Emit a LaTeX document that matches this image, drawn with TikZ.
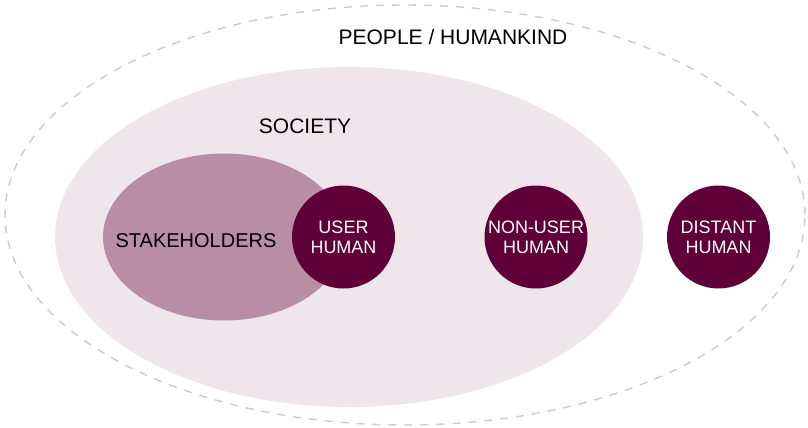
\documentclass[tikz,border=0pt]{standalone}
\usepackage{fontspec}
\setmainfont{Liberation Sans}
\usetikzlibrary{shapes}

\definecolor{societypink}{HTML}{EFE6EC}
\definecolor{stakemauve}{HTML}{B98EA5}
\definecolor{humanwine}{HTML}{600038}
\definecolor{dashgray}{HTML}{CBCBCB}

\begin{document}
\begin{tikzpicture}[x=1pt,y=1pt]
          \tikzstyle{every node}+=[inner sep=0pt]
          \tikzstyle{human}=[circle, fill=humanwine, minimum size=103pt, text=white, align=center, font=\fontsize{18}{20}\selectfont]
          \tikzstyle{caption}=[anchor=base, font=\fontsize{21}{25}\selectfont]
          \useasboundingbox (0,0) rectangle (808,-428);
          \node [ellipse, draw=dashgray, line width=1.4pt, dash pattern=on 8pt off 8pt, minimum width=800, minimum height=420] (people) at (405,-215) {};
          \node [ellipse, fill=societypink, minimum width=588, minimum height=340] (society) at (349,-237) {};
          \node [ellipse, fill=stakemauve, minimum width=242, minimum height=167] (stakeholders) at (224,-237) {};
          \node [human] (user) at (343.5,-237) {USER\\HUMAN};
          \node [human] (nonuser) at (536,-237) {NON-USER\\HUMAN};
          \node [human] (distant) at (718.5,-237) {DISTANT\\HUMAN};
          \node [caption] (peoplelabel) at (453,-45) {PEOPLE / HUMANKIND};
          \node [caption] (societylabel) at (305,-133) {SOCIETY};
          \node [caption, font=\fontsize{20}{24}\selectfont] (stakelabel) at (196,-247) {STAKEHOLDERS};
        \end{tikzpicture}
\end{document}
